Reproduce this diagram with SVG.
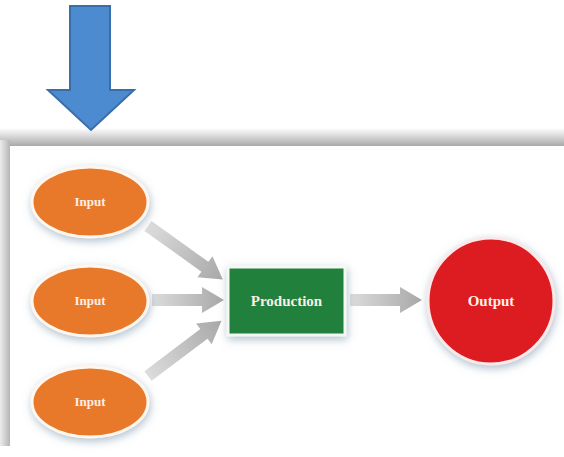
<svg xmlns="http://www.w3.org/2000/svg" width="564" height="457" viewBox="0 0 564 457">
  <style>
    .lbl { font-family: "Liberation Serif", "DejaVu Serif", serif; font-weight: bold; fill: #fbefe6; text-anchor: middle; }
    .in { fill: #e9792a; stroke: #fff6ee; stroke-width: 3; filter: url(#glow); }
    .link { fill: url(#grayGrad); }
  </style>
  <defs>
    <linearGradient id="panelTop" x1="0" y1="0" x2="0" y2="1">
      <stop offset="0" stop-color="#ffffff"/>
      <stop offset="1" stop-color="#a9a9a9"/>
    </linearGradient>
    <linearGradient id="panelLeft" x1="0" y1="0" x2="1" y2="0">
      <stop offset="0" stop-color="#ececec"/>
      <stop offset="1" stop-color="#b5b5b5"/>
    </linearGradient>
    <linearGradient id="grayGrad" x1="0" y1="0" x2="1" y2="0">
      <stop offset="0" stop-color="#dcdcdc"/>
      <stop offset="1" stop-color="#a8a8a8"/>
    </linearGradient>
    <filter id="glow" x="-30%" y="-30%" width="160%" height="160%">
      <feGaussianBlur in="SourceAlpha" stdDeviation="4"/>
      <feOffset dx="1" dy="3" result="b"/>
      <feFlood flood-color="#6f8fa8" flood-opacity="0.55"/>
      <feComposite in2="b" operator="in"/>
      <feMerge><feMergeNode/><feMergeNode in="SourceGraphic"/></feMerge>
    </filter>
  </defs>

  <rect width="564" height="457" fill="#ffffff"/>

  <!-- backdrop panel with soft shaded edges -->
  <g id="panel">
    <rect x="0" y="128" width="564" height="18" fill="url(#panelTop)"/>
    <rect x="0" y="140" width="10" height="306" fill="url(#panelLeft)"/>
    <rect x="10" y="146" width="554" height="302" fill="#ffffff"/>
  </g>

  <!-- big blue down arrow -->
  <g id="down-arrow">
    <path d="M70,6 H110 V90 H134 L91,130 L48,90 H70 Z" fill="#4d8bd0" stroke="#3a6ea8" stroke-width="2" stroke-linejoin="miter"/>
  </g>

  <!-- connectors -->
  <g id="connectors">
    <g transform="translate(148,226) rotate(35.6)">
      <path class="link" d="M0,-6 H70 V-13 L92,0 L70,13 V6 H0 Z"/>
    </g>
    <g transform="translate(152,300)">
      <path class="link" d="M0,-6 H50 V-13 L72,0 L50,13 V6 H0 Z"/>
    </g>
    <g transform="translate(148,376) rotate(-37)">
      <path class="link" d="M0,-6 H70 V-13 L92,0 L70,13 V6 H0 Z"/>
    </g>
    <g transform="translate(350,300)">
      <path class="link" d="M0,-6 H50 V-13 L72,0 L50,13 V6 H0 Z"/>
    </g>
  </g>

  <g id="input1">
    <ellipse class="in" cx="90" cy="202" rx="58" ry="35"/>
    <text class="lbl" x="90" y="206" font-size="13">Input</text>
  </g>
  <g id="input2">
    <ellipse class="in" cx="90" cy="301" rx="58" ry="35"/>
    <text class="lbl" x="90" y="305" font-size="13">Input</text>
  </g>
  <g id="input3">
    <ellipse class="in" cx="90" cy="402" rx="58" ry="35"/>
    <text class="lbl" x="90" y="406" font-size="13">Input</text>
  </g>

  <g id="production">
    <rect x="228" y="267" width="117" height="68" fill="#23803c" stroke="#f4f8f4" stroke-width="3" filter="url(#glow)"/>
    <text class="lbl" x="286.5" y="306" font-size="15" fill="#eef6ee">Production</text>
  </g>

  <g id="output">
    <circle cx="491" cy="301" r="63" fill="#dd1c24" stroke="#fbe8e8" stroke-width="3" filter="url(#glow)"/>
    <text class="lbl" x="491" y="306" font-size="15">Output</text>
  </g>
</svg>
